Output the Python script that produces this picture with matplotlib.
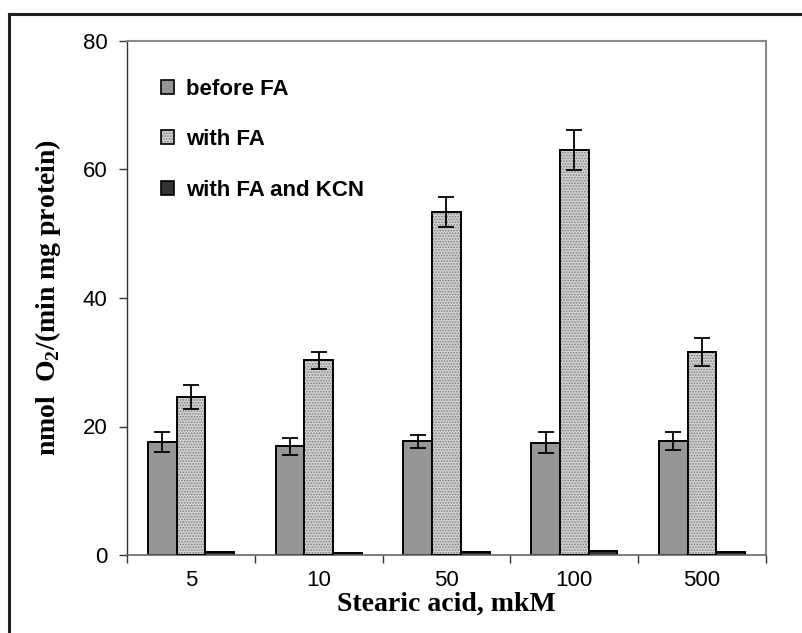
import matplotlib.pyplot as plt
import numpy as np
from matplotlib.patches import Patch
from matplotlib.lines import Line2D

categories = ['5', '10', '50', '100', '500']
before_fa = [17.6, 16.9, 17.7, 17.5, 17.8]
before_fa_err = [1.5, 1.3, 1.0, 1.6, 1.4]
with_fa = [24.6, 30.3, 53.4, 63.0, 31.6]
with_fa_err = [1.8, 1.3, 2.3, 3.1, 2.2]
with_fa_kcn = [0.4, 0.3, 0.4, 0.6, 0.4]

plt.rcParams['hatch.linewidth'] = 0.8
plt.rcParams['mathtext.fontset'] = 'custom'
plt.rcParams['mathtext.bf'] = 'Liberation Serif:bold'
plt.rcParams['mathtext.rm'] = 'Liberation Serif'

fig = plt.figure(figsize=(8.02, 6.33), dpi=100)
ax = fig.add_axes([127 / 802, 78 / 633, 639 / 802, 514 / 633])

x = np.arange(len(categories))
w = 0.225

ax.bar(x - w, before_fa, w, color='#969696', edgecolor='black', linewidth=1.4, zorder=2)
ax.bar(x, with_fa, w, color='#d2d2d2', hatch='......', edgecolor='#7c7c7c', linewidth=0, zorder=2)
ax.bar(x, with_fa, w, fill=False, edgecolor='black', linewidth=1.4, zorder=3)
ax.bar(x + w, with_fa_kcn, w, color='#333333', edgecolor='black', linewidth=1.4, zorder=2)

ax.errorbar(x - w, before_fa, yerr=before_fa_err, fmt='none', ecolor='black',
            elinewidth=1.3, capsize=6, capthick=1.3, zorder=4)
ax.errorbar(x, with_fa, yerr=with_fa_err, fmt='none', ecolor='black',
            elinewidth=1.3, capsize=6, capthick=1.3, zorder=4)

ax.set_xlim(-0.5, len(categories) - 0.5)
ax.set_ylim(0, 80)
ax.set_yticks([0, 20, 40, 60, 80])
ax.set_xticks(x)
ax.set_xticklabels(categories)
ax.set_xticks(np.arange(len(categories) + 1) - 0.5, minor=True)
ax.tick_params(axis='x', which='major', length=0, pad=11, labelsize=16)
ax.tick_params(axis='x', which='minor', length=6, width=1, direction='out', color='#333333')
ax.tick_params(axis='y', length=6, width=1, direction='out', pad=8, labelsize=16, color='#333333')
for lab in ax.get_xticklabels() + ax.get_yticklabels():
    lab.set_fontfamily('Liberation Sans')

for side in ['top', 'right']:
    ax.spines[side].set_color('#8a8a8a')
    ax.spines[side].set_linewidth(1.5)
ax.spines['left'].set_color('#333333')
ax.spines['bottom'].set_color('#666666')
ax.spines['left'].set_linewidth(1.0)
ax.spines['bottom'].set_linewidth(1.2)

ax.set_xlabel('Stearic acid, mkM', fontfamily='Liberation Serif', fontweight='bold',
              fontsize=20, labelpad=0)
ax.set_ylabel(r'nmol  O$_\mathbf{2}$/(min mg protein)', fontfamily='Liberation Serif',
              fontweight='bold', fontsize=20, labelpad=14)

handles = [
    Patch(facecolor='#969696', edgecolor='black', linewidth=1.2),
    (Patch(facecolor='#d2d2d2', hatch='......', edgecolor='#7c7c7c', linewidth=0),
     Patch(fill=False, edgecolor='black', linewidth=1.2)),
    Patch(facecolor='#333333', edgecolor='black', linewidth=1.2),
]
ax.legend(handles, ['before FA', 'with FA', 'with FA and KCN'], loc='upper left',
          bbox_to_anchor=(0.053, 0.927), borderaxespad=0, borderpad=0, frameon=False,
          prop={'family': 'Liberation Sans', 'weight': 'bold', 'size': 16},
          handlelength=0.6, handleheight=0.6, handletextpad=0.55, labelspacing=1.33)

# outer frame (cut off at the right and bottom)
fig.add_artist(Line2D([9 / 802, 9 / 802], [0, 1 - 14 / 633], color='#222222', linewidth=2.2))
fig.add_artist(Line2D([9 / 802, 1], [1 - 14 / 633, 1 - 14 / 633], color='#222222', linewidth=2.2))

plt.savefig('out.png', dpi=100)
